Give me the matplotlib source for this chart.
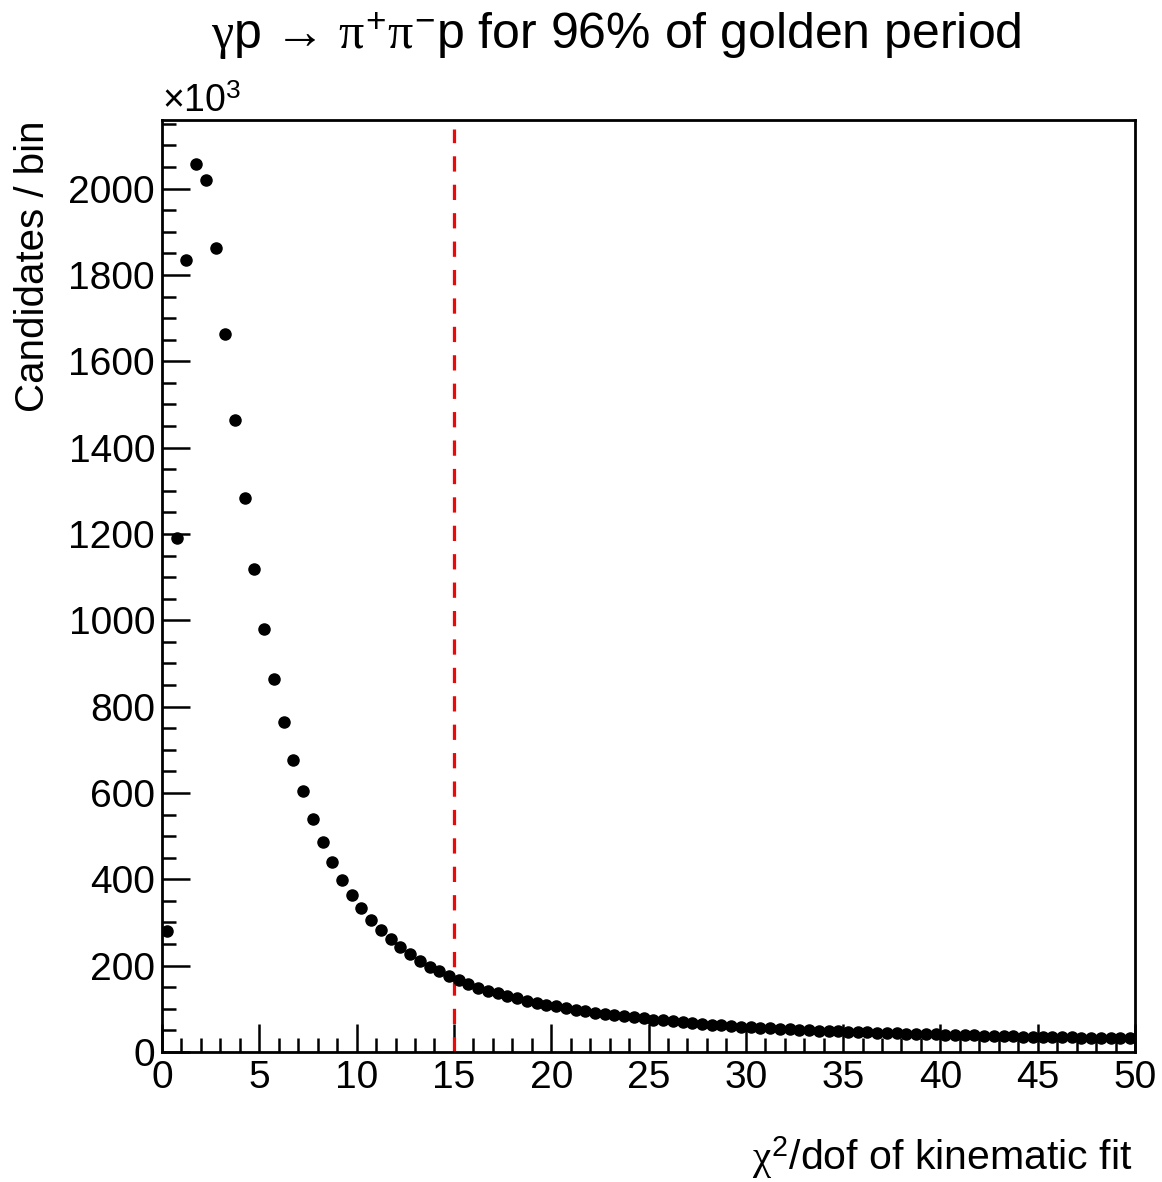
import numpy as np
import matplotlib
matplotlib.use("Agg")
import matplotlib.pyplot as plt
from matplotlib.ticker import MultipleLocator

plt.rcParams["font.family"] = ["Liberation Sans", "DejaVu Sans"]
plt.rcParams["mathtext.fontset"] = "custom"
plt.rcParams["mathtext.rm"] = "Liberation Sans"
plt.rcParams["mathtext.it"] = "Liberation Serif"

# histogram: chi2/dof of kinematic fit, 100 bins of width 0.5 from 0 to 50
bin_width = 0.5
bin_centers = np.arange(0.25, 50, bin_width)
counts_k = [
    280, 1190, 1835, 2056, 2021, 1863, 1663, 1465, 1284, 1120,
    981, 865, 764, 677, 604, 540, 487, 440, 399, 364,
    333, 306, 282, 261, 243, 226, 211, 198, 187, 177,
    167, 157, 149, 142, 136, 130, 124, 119, 114, 110,
    106, 102, 98, 94, 91, 88, 85, 83, 80, 78,
    75, 73, 71, 69, 67, 65, 63, 62, 60, 59,
    57, 56, 55, 54, 52.5, 51.5, 50.5, 49.5, 48.6, 47.8,
    47.0, 46.2, 45.4, 44.7, 44.0, 43.3, 42.6, 42.0, 41.3, 40.7,
    40.1, 39.5, 39.0, 38.4, 37.9, 37.4, 36.9, 36.4, 35.9, 35.5,
    35.0, 34.6, 34.2, 33.8, 33.4, 33.0, 32.6, 32.3, 31.9, 31.6,
]
cut_value = 15

W, H = 1162, 1182
fig = plt.figure(figsize=(W / 100, H / 100), dpi=100)
ax = fig.add_axes([162 / W, 1 - 1052 / H, (1135 - 162) / W, (1052 - 120) / H])

ax.plot(bin_centers, counts_k, "o", color="black", markersize=8, zorder=3)
ax.plot([cut_value, cut_value], [0, 2137], color="red", linestyle=(0, (5, 4.3)),
        linewidth=2.2, zorder=2)

ax.set_xlim(0, 50)
ax.set_ylim(0, 2159)
ax.xaxis.set_major_locator(MultipleLocator(5))
ax.xaxis.set_minor_locator(MultipleLocator(1))
ax.yaxis.set_major_locator(MultipleLocator(200))
ax.yaxis.set_minor_locator(MultipleLocator(50))
ax.tick_params(which="both", direction="in", top=False, right=False,
               width=1.8, labelsize=28)
ax.tick_params(which="major", length=20)
ax.tick_params(which="minor", length=10)
ax.tick_params(axis="x", pad=6)
ax.tick_params(axis="y", pad=5)
for s in ax.spines.values():
    s.set_linewidth(2.0)

fig.text(616 / W, 1 - 36 / H,
         r"$\gamma$p → $\pi^{+}\pi^{-}$p for 96% of golden period",
         ha="center", va="center", fontsize=36)
fig.text(162 / W, 1 - 112 / H, r"$\times$10$^{3}$", ha="left", va="baseline",
         fontsize=27)
fig.text(1132 / W, 1 - 1170 / H, r"$\chi^{2}$/dof of kinematic fit",
         ha="right", va="baseline", fontsize=29.5)
fig.text(33 / W, 1 - 120 / H, "Candidates / bin", rotation=90,
         ha="center", va="top", fontsize=29)

fig.savefig("out.png", dpi=100)
plt.close(fig)
